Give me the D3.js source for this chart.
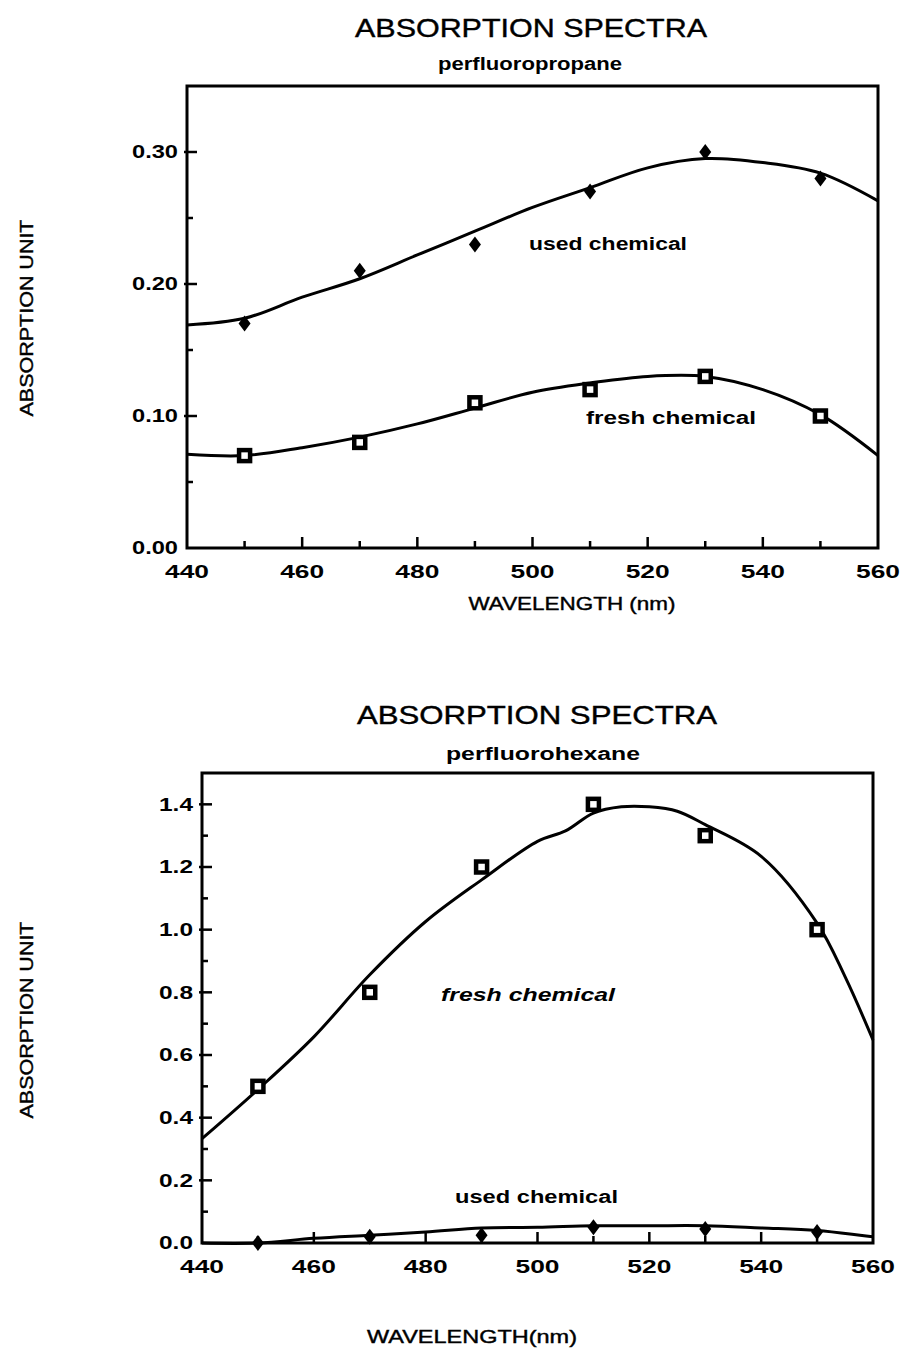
<!DOCTYPE html>
<html><head><meta charset="utf-8">
<script src="https://cdn.jsdelivr.net/npm/d3@7/dist/d3.min.js"></script>
<style>
html,body{margin:0;padding:0;background:#fff;}
svg{display:block;}
text{font-family:"Liberation Sans",Arial,Helvetica,sans-serif;fill:#000;}
</style></head>
<body>
<svg id="chart" width="901" height="1350"></svg>
<script>
// ---------- data ----------
const wavelengths = [450, 470, 490, 510, 530, 550];
const xTickValues = [440, 460, 480, 500, 520, 540, 560];
const xTickLabels = ["440", "460", "480", "500", "520", "540", "560"];

// perfluoropropane
const propYTickValues = [0.00, 0.10, 0.20, 0.30];
const propYTickLabels = ["0.00", "0.10", "0.20", "0.30"];
const propUsedPoints = [0.17, 0.21, 0.23, 0.27, 0.30, 0.28];
const propFreshPoints = [0.07, 0.08, 0.11, 0.12, 0.13, 0.10];
const propCurveX = [440, 450, 460, 470, 480, 490, 500, 510, 520, 530, 540, 550, 560];
const propUsedCurve = [0.169, 0.174, 0.190, 0.204, 0.222, 0.240, 0.258, 0.273, 0.288, 0.295, 0.292, 0.284, 0.263];
const propFreshCurve = [0.071, 0.070, 0.076, 0.084, 0.094, 0.106, 0.118, 0.125, 0.130, 0.130, 0.120, 0.101, 0.070];

// perfluorohexane
const hexYTickValues = [0.0, 0.2, 0.4, 0.6, 0.8, 1.0, 1.2, 1.4];
const hexYTickLabels = ["0.0", "0.2", "0.4", "0.6", "0.8", "1.0", "1.2", "1.4"];
const hexFreshPoints = [0.50, 0.80, 1.20, 1.40, 1.30, 1.00];
const hexUsedPoints = [0.00, 0.02, 0.025, 0.05, 0.045, 0.035];
const hexFreshCurveX = [440, 450, 460, 470, 480, 490, 500, 505, 510, 515, 520, 525, 530, 540, 550, 555, 560];
const hexFreshCurve = [0.333, 0.490, 0.658, 0.856, 1.026, 1.159, 1.282, 1.315, 1.372, 1.392, 1.392, 1.378, 1.335, 1.234, 1.021, 0.850, 0.648];
const hexUsedCurveX = [440, 450, 460, 470, 480, 490, 500, 510, 520, 530, 540, 550, 560];
const hexUsedCurve = [0.000, 0.000, 0.015, 0.025, 0.035, 0.048, 0.050, 0.055, 0.055, 0.055, 0.048, 0.040, 0.020];

// ---------- drawing ----------
const svg = d3.select("#chart");

function panel(cfg) {
  const g = svg.append("g");
  const x = d3.scaleLinear().domain([440, 560]).range([cfg.left, cfg.right]);
  const y = d3.scaleLinear().domain([0, cfg.yMax]).range([cfg.bottom, cfg.top]);

  // titles
  g.append("text").attr("x", cfg.titleX).attr("y", cfg.titleY)
    .attr("text-anchor", "middle").attr("font-size", 25)
    .attr("stroke", "#000").attr("stroke-width", 0.4)
    .attr("textLength", cfg.titleW).attr("lengthAdjust", "spacingAndGlyphs")
    .text("ABSORPTION SPECTRA");
  g.append("text").attr("x", cfg.subX).attr("y", cfg.subY)
    .attr("text-anchor", "middle").attr("font-size", 18).attr("font-weight", "bold")
    .attr("textLength", cfg.subW).attr("lengthAdjust", "spacingAndGlyphs")
    .text(cfg.subtitle);

  // minor / major ticks (drawn inside)
  const xMinor = d3.range(450, 560, 20);
  g.selectAll(null).data(xMinor).join("line")
    .attr("x1", d => x(d)).attr("x2", d => x(d))
    .attr("y1", cfg.bottom).attr("y2", cfg.bottom - 7)
    .attr("stroke", "#000").attr("stroke-width", 2.5);
  g.selectAll(null).data(xTickValues.slice(1, -1)).join("line")
    .attr("x1", d => x(d)).attr("x2", d => x(d))
    .attr("y1", cfg.bottom).attr("y2", cfg.bottom - 11)
    .attr("stroke", "#000").attr("stroke-width", 2.5);
  g.selectAll(null).data(cfg.yMinor).join("line")
    .attr("x1", cfg.left).attr("x2", cfg.left + 6)
    .attr("y1", d => y(d)).attr("y2", d => y(d))
    .attr("stroke", "#000").attr("stroke-width", 2.5);
  g.selectAll(null).data(cfg.yTicks.slice(1)).join("line")
    .attr("x1", cfg.left - 3).attr("x2", cfg.left + 10)
    .attr("y1", d => y(d)).attr("y2", d => y(d))
    .attr("stroke", "#000").attr("stroke-width", 2.5);

  // frame
  g.append("rect").attr("x", cfg.left).attr("y", cfg.top)
    .attr("width", cfg.right - cfg.left).attr("height", cfg.bottom - cfg.top)
    .attr("fill", "none").attr("stroke", "#000").attr("stroke-width", 3);

  // tick labels
  g.selectAll(null).data(cfg.yTicks).join("text")
    .attr("x", cfg.left - 9).attr("y", d => y(d)).attr("dy", "0.36em")
    .attr("text-anchor", "end").attr("font-size", 18).attr("font-weight", "bold")
    .attr("textLength", cfg.yLabW).attr("lengthAdjust", "spacingAndGlyphs")
    .text((d, i) => cfg.yLabels[i]);
  g.selectAll(null).data(xTickValues).join("text")
    .attr("x", d => x(d)).attr("y", cfg.xLabY)
    .attr("text-anchor", "middle").attr("font-size", 19).attr("font-weight", "bold")
    .attr("textLength", 44).attr("lengthAdjust", "spacingAndGlyphs")
    .text((d, i) => xTickLabels[i]);

  // axis titles
  g.append("text").attr("x", cfg.xTitleX).attr("y", cfg.xTitleY)
    .attr("text-anchor", "middle").attr("font-size", 18)
    .attr("stroke", "#000").attr("stroke-width", 0.4)
    .attr("textLength", cfg.xTitleW).attr("lengthAdjust", "spacingAndGlyphs")
    .text(cfg.xTitle);
  g.append("text")
    .attr("transform", `translate(33,${cfg.yTitleY}) rotate(-90)`)
    .attr("text-anchor", "middle").attr("font-size", 18)
    .attr("stroke", "#000").attr("stroke-width", 0.4)
    .attr("textLength", 197).attr("lengthAdjust", "spacingAndGlyphs")
    .text("ABSORPTION UNIT");

  // curves
  const line = d3.line().x(d => x(d[0])).y(d => y(d[1])).curve(d3.curveCatmullRom.alpha(0.5));
  cfg.curves.forEach(c => {
    g.append("path").datum(d3.zip(c.x, c.y)).attr("d", line)
      .attr("fill", "none").attr("stroke", "#000").attr("stroke-width", 3);
  });

  // markers
  cfg.diamonds.forEach(vals => {
    g.selectAll(null).data(d3.zip(wavelengths, vals)).join("path")
      .attr("transform", d => `translate(${x(d[0])},${y(d[1])})`)
      .attr("d", "M0,-8L6,0L0,8L-6,0Z").attr("fill", "#000");
  });
  cfg.squares.forEach(vals => {
    g.selectAll(null).data(d3.zip(wavelengths, vals)).join("rect")
      .attr("x", d => x(d[0]) - 5.5).attr("y", d => y(d[1]) - 5.5)
      .attr("width", 11).attr("height", 11)
      .attr("fill", "#fff").attr("stroke", "#000").attr("stroke-width", 4.5);
  });

  // series labels
  cfg.labels.forEach(l => {
    g.append("text").attr("x", l.x).attr("y", l.y).attr("font-size", 18)
      .attr("font-weight", "bold").attr("font-style", l.italic ? "italic" : "normal")
      .attr("textLength", l.w).attr("lengthAdjust", "spacingAndGlyphs")
      .text(l.text);
  });
}

panel({
  left: 187, right: 878, top: 86, bottom: 548, yMax: 0.35,
  titleX: 531, titleY: 37, titleW: 352,
  subtitle: "perfluoropropane", subX: 530, subY: 70, subW: 184,
  yTicks: propYTickValues, yLabels: propYTickLabels, yMinor: [0.05, 0.15, 0.25], yLabW: 46,
  xLabY: 578,
  xTitle: "WAVELENGTH (nm)", xTitleX: 572, xTitleY: 610, xTitleW: 207,
  yTitleY: 318,
  curves: [{x: propCurveX, y: propUsedCurve}, {x: propCurveX, y: propFreshCurve}],
  diamonds: [propUsedPoints], squares: [propFreshPoints],
  labels: [
    {text: "used chemical", x: 529, y: 250, w: 158},
    {text: "fresh chemical", x: 586, y: 424, w: 170}
  ]
});

panel({
  left: 202, right: 873, top: 773, bottom: 1243, yMax: 1.5,
  titleX: 537, titleY: 724, titleW: 360,
  subtitle: "perfluorohexane", subX: 543, subY: 760, subW: 194,
  yTicks: hexYTickValues, yLabels: hexYTickLabels, yMinor: [0.1, 0.3, 0.5, 0.7, 0.9, 1.1, 1.3], yLabW: 34,
  xLabY: 1273,
  xTitle: "WAVELENGTH(nm)", xTitleX: 472, xTitleY: 1343, xTitleW: 210,
  yTitleY: 1020,
  curves: [{x: hexFreshCurveX, y: hexFreshCurve}, {x: hexUsedCurveX, y: hexUsedCurve}],
  diamonds: [hexUsedPoints], squares: [hexFreshPoints],
  labels: [
    {text: "fresh chemical", x: 441, y: 1001, w: 174, italic: true},
    {text: "used chemical", x: 455, y: 1203, w: 163}
  ]
});
</script>
</body></html>
